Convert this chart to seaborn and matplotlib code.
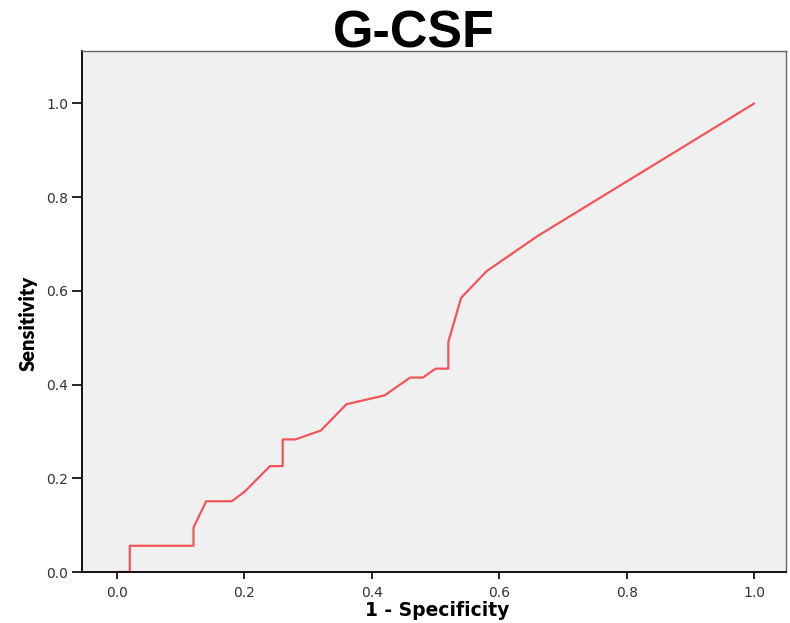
import matplotlib
matplotlib.use("Agg")
import matplotlib.pyplot as plt
import seaborn as sns
import pandas as pd

# ROC curve coordinates for G-CSF
one_minus_specificity = [0.00, 0.02, 0.02, 0.12, 0.12, 0.14, 0.18, 0.20, 0.24, 0.26,
                         0.26, 0.28, 0.32, 0.36, 0.42, 0.46, 0.48, 0.50, 0.52, 0.52,
                         0.54, 0.58, 0.66, 1.00]
sensitivity = [0.000, 0.000, 0.056, 0.056, 0.095, 0.151, 0.151, 0.171, 0.226, 0.226,
               0.283, 0.283, 0.302, 0.358, 0.377, 0.415, 0.415, 0.434, 0.434, 0.491,
               0.585, 0.642, 0.717, 1.000]
x_ticks = [0.0, 0.2, 0.4, 0.6, 0.8, 1.0]
y_ticks = [0.0, 0.2, 0.4, 0.6, 0.8, 1.0]
title_text = "G-CSF"
x_label = "1 - Specificity"
y_label = "Sensitivity"

df = pd.DataFrame({"fpr": one_minus_specificity, "tpr": sensitivity})

sns.set_style("white")
fig = plt.figure(figsize=(7.90, 6.23), dpi=100)
ax = fig.add_axes([82 / 790, 1 - 572 / 623, (786 - 82) / 790, (572 - 51) / 623])
ax.set_facecolor("#f0f0f0")

sns.lineplot(data=df, x="fpr", y="tpr", sort=False, estimator=None,
             color="#f0555a", linewidth=1.6, ax=ax)

ax.set_xlim(-0.055, 1.050)
ax.set_ylim(0.0, 1.112)
ax.set_xticks(x_ticks)
ax.set_yticks(y_ticks)
ax.set_xticklabels([f"{v:.1f}" for v in x_ticks], family="DejaVu Sans", fontsize=10, color="#333333")
ax.set_yticklabels([f"{v:.1f}" for v in y_ticks], family="DejaVu Sans", fontsize=10, color="#333333")
ax.tick_params(axis="x", direction="out", length=5, width=1.2, color="black", pad=5, bottom=True)
ax.tick_params(axis="y", direction="out", length=7, width=1.2, color="black", pad=3, left=True)

for side in ("left", "bottom"):
    ax.spines[side].set_color("black")
    ax.spines[side].set_linewidth(1.3)
for side in ("top", "right"):
    ax.spines[side].set_color("#666666")
    ax.spines[side].set_linewidth(1.0)

ax.set_xlabel("")
ax.set_ylabel("")
fig.text(437 / 790, 1 - 611 / 623, x_label, ha="center", va="center",
         family="DejaVu Sans", fontweight="bold", fontsize=13.5, color="black")
fig.text(28 / 790, 1 - 323 / 623, y_label, ha="center", va="center", rotation=90,
         family="Lato", fontweight="heavy", fontsize=14.5, color="black")
fig.text(414 / 790, 1 - 47 / 623, title_text, ha="center", va="baseline",
         family="Liberation Sans", fontweight="bold", fontsize=37.5, color="black")

fig.savefig("out.png", dpi=100, facecolor="white")
